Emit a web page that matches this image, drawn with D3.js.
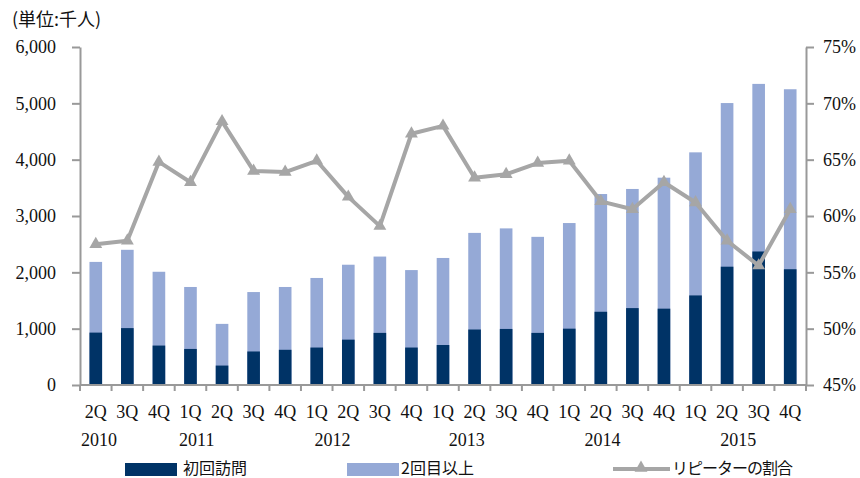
<!DOCTYPE html>
<html>
<head>
<meta charset="utf-8">
<script src="https://cdn.jsdelivr.net/npm/d3@7"></script>
<style>
  body { margin: 0; background: #fff; }
  svg { display: block; }
</style>
</head>
<body>
<svg id="chart" width="860" height="478"></svg>
<script>
// quarters and years along the bottom
const quarters = ['2Q','3Q','4Q','1Q','2Q','3Q','4Q','1Q','2Q','3Q','4Q','1Q','2Q','3Q','4Q',
                  '1Q','2Q','3Q','4Q','1Q','2Q','3Q','4Q'];
const years = ['2010','2011','2012','2013','2014','2015'];

// visitors, thousands
const firstVisit = [930,1010,700,640,345,595,625,665,805,925,665,710,985,995,925,1000,1300,1365,1355,1590,2100,2370,2055];
const totalVisit = [2185,2400,2010,1740,1085,1650,1740,1900,2135,2280,2040,2255,2700,2780,2630,2875,3390,3480,3680,4130,5005,5345,5250];
// repeater share, %
const repeatRate = [57.5,57.8,64.8,63.0,68.4,64.0,63.9,64.9,61.7,59.1,67.3,68.0,63.4,63.7,64.7,64.9,61.3,60.6,63.0,61.2,57.8,55.6,60.6];

const leftTicks = [0,1000,2000,3000,4000,5000,6000];
const rightTicks = [45,50,55,60,65,70,75];

const svg = d3.select('#chart');
const m = { left: 80, right: 806, top: 47, bottom: 385 };
const serif = '"Liberation Serif", serif';
const cjk = '"Noto Sans CJK JP", sans-serif';
const dark = '#003366', light = '#95a9d6', grey = '#a6a6a6', axisGrey = '#999';

const idx = quarters.map((q, i) => i);
const x = d3.scaleBand().domain(idx).range([m.left, m.right]).paddingInner(0.6).paddingOuter(0.3);
const y = d3.scaleLinear().domain([0, 6000]).range([m.bottom, m.top]);
const y2 = d3.scaleLinear().domain([45, 75]).range([m.bottom, m.top]);
const cx = i => x(i) + x.bandwidth() / 2;

// title
svg.append('text')
  .attr('x', 12).attr('y', 26)
  .style('font-family', cjk).style('font-size', '18px').style('fill', '#111')
  .text('(単位:千人)');

// bars
svg.append('g').selectAll('rect')
  .data(idx).join('rect')
  .attr('x', i => x(i)).attr('width', x.bandwidth())
  .attr('y', i => y(totalVisit[i])).attr('height', i => y(0) - y(totalVisit[i]))
  .attr('fill', light);

svg.append('g').selectAll('rect')
  .data(idx).join('rect')
  .attr('x', i => x(i)).attr('width', x.bandwidth())
  .attr('y', i => y(firstVisit[i])).attr('height', i => y(0) - y(firstVisit[i]))
  .attr('fill', dark);

// left axis
const gl = svg.append('g').attr('transform', `translate(${m.left},0)`)
  .call(d3.axisLeft(y).tickValues(leftTicks).tickFormat(d3.format(',')).tickSize(8).tickPadding(16).tickSizeOuter(0));
gl.selectAll('path, line').attr('stroke', axisGrey).attr('stroke-width', 2);
gl.selectAll('text').style('font-family', serif).style('font-size', '18px').style('fill', '#111');

// right axis
const gr = svg.append('g').attr('transform', `translate(${m.right},0)`)
  .call(d3.axisRight(y2).tickValues(rightTicks).tickFormat(d => d + '%').tickSize(8).tickPadding(9).tickSizeOuter(0));
gr.selectAll('path, line').attr('stroke', axisGrey).attr('stroke-width', 2);
gr.selectAll('text').style('font-family', serif).style('font-size', '18px').style('fill', '#111');

// bottom axis
svg.append('line')
  .attr('x1', m.left).attr('x2', m.right).attr('y1', m.bottom).attr('y2', m.bottom)
  .attr('stroke', axisGrey).attr('stroke-width', 2);
const bounds = d3.range(quarters.length + 1).map(i => m.left + i * x.step());
svg.append('g').selectAll('line')
  .data(bounds).join('line')
  .attr('x1', d => d).attr('x2', d => d)
  .attr('y1', m.bottom).attr('y2', m.bottom + 6)
  .attr('stroke', axisGrey).attr('stroke-width', 2);

svg.append('g').selectAll('text')
  .data(idx).join('text')
  .attr('x', i => cx(i)).attr('y', 418)
  .attr('text-anchor', 'middle')
  .style('font-family', serif).style('font-size', '18px').style('fill', '#111')
  .text(i => quarters[i]);

// year labels sit under these quarter positions
const yearAt = [0.1, 3.2, 7.5, 11.75, 16.05, 20.35];
svg.append('g').selectAll('text')
  .data(years).join('text')
  .attr('x', (d, k) => cx(0) + yearAt[k] * x.step()).attr('y', 446)
  .attr('text-anchor', 'middle')
  .style('font-family', serif).style('font-size', '18px').style('fill', '#111')
  .text(d => d);

// repeater line
const line = d3.line().x(i => cx(i)).y(i => y2(repeatRate[i]));
svg.append('path')
  .datum(idx)
  .attr('d', line)
  .attr('fill', 'none').attr('stroke', grey).attr('stroke-width', 4).attr('stroke-linejoin', 'round');

const tri = d3.symbol().type(d3.symbolTriangle).size(72);
svg.append('g').selectAll('path')
  .data(idx).join('path')
  .attr('transform', i => `translate(${cx(i)},${y2(repeatRate[i])})`)
  .attr('d', tri).attr('fill', grey);

// legend
const lg = svg.append('g').style('font-family', cjk).style('font-size', '16px').style('fill', '#111');
lg.append('rect').attr('x', 125).attr('y', 463).attr('width', 52).attr('height', 13).attr('fill', dark);
lg.append('text').attr('x', 183).attr('y', 474).text('初回訪問');
lg.append('rect').attr('x', 347).attr('y', 463).attr('width', 52).attr('height', 13).attr('fill', light);
lg.append('text').attr('x', 401).attr('y', 474).text('2回目以上');
lg.append('line').attr('x1', 613).attr('x2', 670).attr('y1', 469).attr('y2', 469)
  .attr('stroke', grey).attr('stroke-width', 4);
lg.append('path').attr('transform', 'translate(641,468)').attr('d', tri).attr('fill', grey);
lg.append('text').attr('x', 672).attr('y', 474).style('letter-spacing', '-1px').text('リピーターの割合');
</script>
</body>
</html>
